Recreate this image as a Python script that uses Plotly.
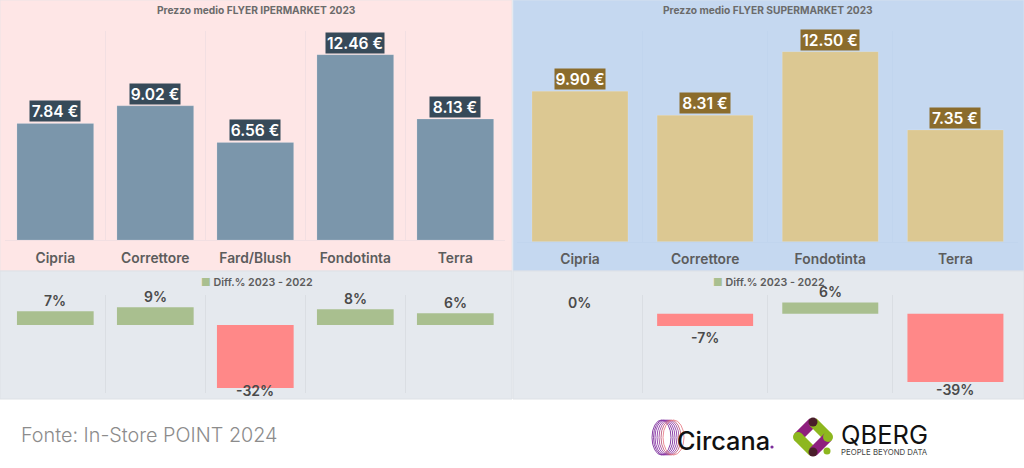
import plotly.graph_objects as go

W, H = 1024, 468
FONT = "Inter"

# ---- data ----
cats_iper = ["Cipria", "Correttore", "Fard/Blush", "Fondotinta", "Terra"]
price_iper = [7.84, 9.02, 6.56, 12.46, 8.13]
diff_iper = [7, 9, -32, 8, 6]

cats_super = ["Cipria", "Correttore", "Fondotinta", "Terra"]
price_super = [9.90, 8.31, 12.50, 7.35]
diff_super = [0, -7, 6.4, -39]

title_iper = "Prezzo medio FLYER IPERMARKET 2023"
title_super = "Prezzo medio FLYER SUPERMARKET 2023"
legend_name = "Diff.% 2023 - 2022"
source_text = "Fonte: In-Store POINT 2024"

GREEN, RED = "#A9BF8F", "#FF8888"


def fx(x):
    return x / W


def fy(y):
    return 1 - y / H


def dom_x(a, b):
    return [fx(a), fx(b)]


def dom_y(top, bottom):
    return [fy(bottom), fy(top)]


fig = go.Figure()
shapes, annos = [], []


def rect(x0, y0, x1, y1, fill, line=None):
    shapes.append(dict(type="rect", xref="paper", yref="paper", layer="below",
                       x0=fx(x0), x1=fx(x1), y0=fy(y0), y1=fy(y1), fillcolor=fill,
                       line=dict(width=1 if line else 0, color=line or "rgba(0,0,0,0)")))


def text(x, y, s, size, color, weight=400, anchor="center"):
    annos.append(dict(xref="paper", yref="paper", x=fx(x), y=fy(y), text=s, showarrow=False,
                      xanchor=anchor, yanchor="middle",
                      font=dict(family=FONT, size=size, color=color, weight=weight)))


def dot(cx, cy, r, col):
    shapes.append(dict(type="circle", xref="paper", yref="paper", x0=fx(cx - r), x1=fx(cx + r),
                       y0=fy(cy + r), y1=fy(cy - r), fillcolor=col, line=dict(width=0)))


rect(0, 0, 512, 271, "#FEE6E6", "#ECE4E6")
rect(513, 0, 1024, 271, "#C5D8F0", "#D5E0EE")
rect(0, 271, 512, 399, "#E5E9EE", "#DDE1E6")
rect(513, 271, 1024, 399, "#E5E9EE", "#DDE1E6")

text(256, 10, title_iper, 10.2, "#6B6B6B", 700)
text(768, 10, title_super, 10.2, "#6B6B6B", 700)
text(19, 435, source_text, 19.8, "#8C8C8C", 300, "left")

legend_label = f'<span style="color:{GREEN}">■</span> {legend_name}'
text(257, 282, legend_label, 10.7, "#5C5C5C", 600)
text(769, 282, legend_label, 10.7, "#5C5C5C", 600)


def price_panel(cats, vals, n, color, label_bg, x0, x1, base, top, ymax, grid):
    xa, ya = f"x{n}", f"y{n}"
    fig.add_trace(go.Bar(x=cats, y=vals, xaxis=xa, yaxis=ya, width=0.767, showlegend=False,
                         marker=dict(color=color, line=dict(color="rgba(255,255,255,0.15)", width=1))))
    fig.update_layout({
        f"xaxis{n}": dict(domain=dom_x(x0, x1), anchor=ya, type="category", tickson="boundaries",
                          showgrid=True, gridcolor=grid, gridwidth=1, showline=True, linecolor=grid,
                          ticks="", ticklabelstandoff=5,
                          tickfont=dict(family=FONT, size=13.8, color="#5C5C5C", weight=600),
                          range=[-0.5, len(cats) - 0.5], fixedrange=True),
        f"yaxis{n}": dict(domain=dom_y(top, base), anchor=xa, range=[0, ymax], visible=False,
                          fixedrange=True),
    })
    for c, v in zip(cats, vals):
        s = f"{v:.2f} €"
        annos.append(dict(xref=xa, yref=ya, x=c, y=v, text=s, showarrow=False, yanchor="bottom",
                          yshift=1, bgcolor=label_bg, borderpad=0, width=8 * len(s) + 2,
                          height=20, font=dict(family=FONT, size=15.6, color="white", weight=600)))


def diff_panel(cats, vals, n, x0, x1, ymin, ymax, floor):
    xa, ya = f"x{n}", f"y{n}"
    fig.add_trace(go.Bar(x=cats, y=vals, xaxis=xa, yaxis=ya, width=0.767, name=legend_name,
                         showlegend=False,
                         marker=dict(color=[GREEN if v >= 0 else RED for v in vals], line=dict(width=0))))
    fig.update_layout({
        f"xaxis{n}": dict(domain=dom_x(x0, x1), anchor=ya, type="category", tickson="boundaries",
                          showgrid=True, gridcolor="#DADEE3", gridwidth=1, showticklabels=False,
                          ticks="", range=[-0.5, len(cats) - 0.5], fixedrange=True),
        f"yaxis{n}": dict(domain=dom_y(295, 393), anchor=xa, range=[ymin, ymax], visible=False,
                          fixedrange=True),
    })
    for c, v in zip(cats, vals):
        annos.append(dict(xref=xa, yref=ya, x=c, y=max(v, floor), text=f"{v:.0f}%", showarrow=False,
                          yanchor="middle", yshift=11 if v >= 0 else -12,
                          font=dict(family=FONT, size=14, color="#4A4A4A", weight=600)))


price_panel(cats_iper, price_iper, "", "#7B96AB", "#374A59", 5.3, 505.3, 240, 31, 14.05, "#F2DFE2")
diff_panel(cats_iper, diff_iper, 2, 5.3, 505.3, -34.5, 15.2, -26.9)
price_panel(cats_super, price_super, 3, "#DCC892", "#8B6C2C", 517.4, 1018, 241.7, 31, 13.86, "#C1D5EE")
diff_panel(cats_super, diff_super, 4, 517.4, 1018, -45.3, 10.7, -36.7)

# ---- logos ----
for a, b, col in [(652, 671, "#7B2D9B"), (653.5, 673, "#7B2D9B"), (655, 675, "#8C3BA8"), (657, 677, "#8C3BA8"),
                  (659, 679, "#A0509F"), (661, 681, "#C0607F"), (663, 684, "#E8808A")]:
    shapes.append(dict(type="circle", xref="paper", yref="paper", x0=fx(a), x1=fx(b), y0=fy(455), y1=fy(420),
                       line=dict(color=col, width=0.9)))
text(675, 440, "Circana", 25.3, "#111111", 500, "left")
dot(772, 447, 1.6, "#7B2D9B")


def stroke(x0, y0, x1, y1, col, w=10):
    shapes.append(dict(type="line", xref="paper", yref="paper", x0=fx(x0), x1=fx(x1), y0=fy(y0), y1=fy(y1),
                       line=dict(color=col, width=w)))


stroke(813, 422, 798, 437, "#8E1F7E")
stroke(813, 422, 828, 437, "#8DB71F")
stroke(798, 437, 813, 452, "#8DB71F")
stroke(828, 437, 813, 452, "#8E1F7E")
dot(798, 437, 5, "#8DB71F")
dot(828, 437, 5, "#8DB71F")
dot(813, 422, 4.5, "#4A1E2A")
dot(813, 452, 4.5, "#4A1E2A")
dot(827, 451, 3.5, "#8DB71F")
text(839, 434, "QBERG", 25.5, "#111111", 400, "left")
text(839, 452, "PEOPLE BEYOND DATA", 7.8, "#444444", 400, "left")

fig.update_layout(
    width=W, height=H, margin=dict(l=0, r=0, t=0, b=0),
    paper_bgcolor="white", plot_bgcolor="rgba(0,0,0,0)",
    shapes=shapes, annotations=annos, showlegend=False,
)

fig.write_html("out.html", config=dict(displayModeBar=False),
               post_script="document.body.style.margin='0';document.body.style.overflow='hidden';")
